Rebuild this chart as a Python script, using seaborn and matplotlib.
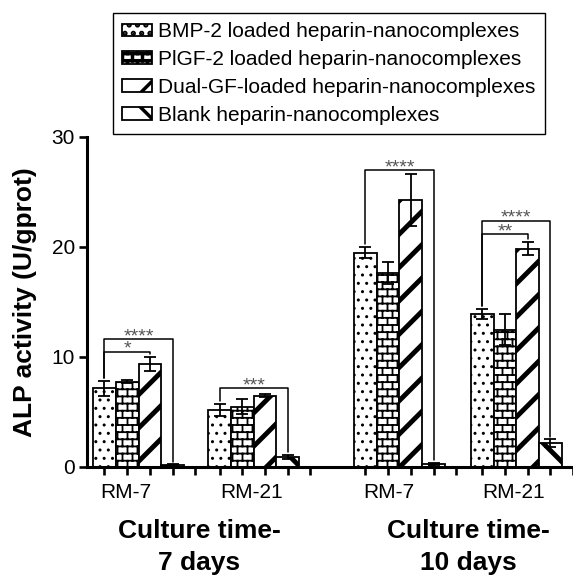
import warnings
import numpy as np
import pandas as pd
import matplotlib
matplotlib.use('Agg')
import matplotlib.pyplot as plt
from matplotlib import hatch as mhatch
from matplotlib.path import Path
import seaborn as sns

warnings.filterwarnings('ignore', message='hatch must consist')

# ---- data ----
groups = ['RM-7', 'RM-21', 'RM-7', 'RM-21']
culture_labels = ['Culture time-\n7 days', 'Culture time-\n10 days']
treatments = ['BMP-2 loaded heparin-nanocomplexes',
              'PlGF-2 loaded heparin-nanocomplexes',
              'Dual-GF-loaded heparin-nanocomplexes',
              'Blank heparin-nanocomplexes']

bmp = [7.15, 5.2, 19.5, 13.9]
bmp_sd = [0.65, 0.55, 0.53, 0.45]
plgf = [7.76, 5.48, 17.66, 12.5]
plgf_sd = [0.15, 0.67, 1.0, 1.4]
dual = [9.36, 6.48, 24.27, 19.85]
dual_sd = [0.65, 0.12, 2.35, 0.6]
blank = [0.18, 0.9, 0.3, 2.15]
blank_sd = [0.05, 0.2, 0.1, 0.37]

# significance brackets: (group index, from bar, to bar, bracket height, label)
brackets = [(0, 0, 2, 10.5, '*'), (0, 0, 3, 11.6, '****'),
            (1, 0, 3, 7.2, '***'),
            (2, 0, 3, 27.0, '****'),
            (3, 0, 2, 21.2, '**'), (3, 0, 3, 22.4, '****')]


# brick hatch (GraphPad style) registered as pattern 'b'
class BrickHatch(mhatch.HatchPatternBase):
    def __init__(self, hatch, density):
        n = hatch.count('b')
        self.rows = 14 * n
        self.cols = 10 * n
        if n:
            self.num_vertices = 2 * self.rows + 2 * (self.rows + 1) * self.cols
        else:
            self.num_vertices = 0

    def set_vertices_and_codes(self, vertices, codes):
        k = 0
        for r in range(self.rows):
            y = (r + 0.5) / self.rows
            vertices[k] = (0, y)
            vertices[k + 1] = (1, y)
            codes[k] = Path.MOVETO
            codes[k + 1] = Path.LINETO
            k += 2
        for r in range(self.rows + 1):
            y0 = (r - 0.5) / self.rows
            y1 = (r + 0.5) / self.rows
            for c in range(self.cols):
                x = (c + 0.25 + 0.5 * (r % 2)) / self.cols
                vertices[k] = (x, y0)
                vertices[k + 1] = (x, y1)
                codes[k] = Path.MOVETO
                codes[k + 1] = Path.LINETO
                k += 2


mhatch._hatch_types.append(BrickHatch)

sns.set_style('ticks')
plt.rcParams['font.family'] = ['Liberation Sans', 'DejaVu Sans']
plt.rcParams.update({'text.color': 'black', 'axes.labelcolor': 'black',
                     'xtick.color': 'black', 'ytick.color': 'black',
                     'axes.edgecolor': 'black',
                     'hatch.linewidth': 2.5, 'hatch.color': 'black'})

group_start = [0, 5.07, 11.49, 16.63]
values = [bmp, plgf, dual, blank]
sds = [bmp_sd, plgf_sd, dual_sd, blank_sd]

rows = []
for g in range(len(groups)):
    for t, name in enumerate(treatments):
        rows.append({'pos': group_start[g] + t, 'alp': values[t][g],
                     'sd': sds[t][g], 'treatment': name})
df = pd.DataFrame(rows)

fig = plt.figure(figsize=(5.73, 5.75), dpi=100)
ax = fig.add_axes([87 / 573, 108 / 575, 486 / 573, 330 / 575])

sns.barplot(data=df, x='pos', y='alp', hue='treatment', hue_order=treatments,
            palette=['white'] * 4, native_scale=True, dodge=False, width=1,
            saturation=1, edgecolor='black', linewidth=1.3, errorbar=None,
            legend=False, ax=ax)

hatches = ['..', 'b', '/', '\\']
hatch_lw = [1.0, 1.3, 3.5, 3.5]
for cont, h, lw in zip(ax.containers, hatches, hatch_lw):
    for p in cont.patches:
        p.set_hatch(h)
        if hasattr(p, 'set_hatch_linewidth'):
            p.set_hatch_linewidth(lw)
        p.set_zorder(2)

ax.errorbar(df['pos'], df['alp'], yerr=df['sd'], fmt='none', ecolor='black',
            elinewidth=1.3, capsize=4.3, capthick=1.3, zorder=3)

# brackets
gap = 0.25
for g, i, j, h, lab in brackets:
    x0 = group_start[g] + i
    x1 = group_start[g] + j
    y0 = values[i][g] + sds[i][g] + gap
    y1 = values[j][g] + sds[j][g] + gap
    ax.plot([x0, x0, x1, x1], [y0, h, h, y1], color='black', lw=1.1,
            zorder=4, clip_on=False)
    ax.text((x0 + x1) / 2, h - 0.2, lab, ha='center', va='baseline',
            fontsize=14, color='#555555')

ax.set_xlim(-0.77, 20.04)
ax.set_ylim(0, 30)
slots = np.concatenate([s + np.arange(5) for s in group_start])
ax.set_xticks(slots, [''] * len(slots))
ax.set_xticks([0.94, 6.47, 12.5, 18.03], groups, minor=True)
ax.tick_params(axis='x', which='major', direction='out', length=5.8, width=1.9)
ax.tick_params(axis='x', which='minor', length=0, pad=11.8, labelsize=15)
ax.set_yticks([0, 10, 20, 30])
ax.tick_params(axis='y', direction='out', length=5.8, width=1.9, pad=3,
               labelsize=15)
ax.set_xlabel('')
ax.set_ylabel('')
sns.despine(ax=ax)
for s in ['left', 'bottom']:
    ax.spines[s].set_linewidth(2.2)

fig.text(25 / 573, 1 - 302 / 575, 'ALP activity (U/gprot)', rotation=90,
         ha='center', va='center', fontsize=19, fontweight='bold')
for lab, xc in zip(culture_labels, [199, 468]):
    fig.text(xc / 573, 1 - 547 / 575, lab, ha='center', va='center',
             fontsize=19, fontweight='bold', linespacing=1.45,
             multialignment='center')

leg = ax.legend(ax.containers, treatments, loc='upper left',
                bbox_to_anchor=(113 / 573, 1 - 13 / 575),
                bbox_transform=fig.transFigure, borderaxespad=0, fontsize=15,
                handlelength=1.4, handleheight=0.55, handletextpad=0.3,
                labelspacing=0.42, borderpad=0.45, fancybox=False,
                framealpha=1, edgecolor='black')
leg.get_frame().set_linewidth(1.0)

fig.savefig('out.png', dpi=100)
